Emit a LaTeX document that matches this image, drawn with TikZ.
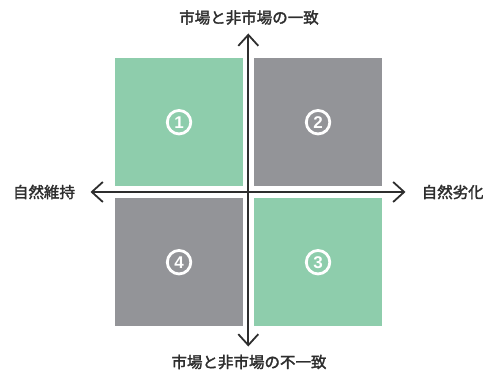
\documentclass[tikz,border=0pt]{standalone}
\usepackage{fontspec}
\newfontfamily\cjk{Noto Sans CJK JP}[FakeBold=2]
\newfontfamily\numfont{Liberation Sans Bold}
\usetikzlibrary{arrows.meta}
\definecolor{qgreen}{HTML}{8ECDAC}
\definecolor{qgray}{HTML}{939498}
\definecolor{txt}{HTML}{2E2E2E}
\tikzset{
  quad/.style={draw=none, minimum width=127.7pt, minimum height=127.4pt, inner sep=0pt, anchor=north west},
  axis/.style={line width=1.8pt, draw=txt, {Straight Barb[length=11pt,width=20pt,line width=1.8pt]}-{Straight Barb[length=11pt,width=20pt,line width=1.8pt]}},
  lbl/.style={text=txt, font=\cjk\fontsize{15.5}{15.5}\selectfont, inner sep=0pt},
  num/.style={circle, draw=white, line width=2.8pt, minimum size=23.5pt, inner sep=0pt, text=white, font=\numfont\fontsize{17}{17}\selectfont}
}
\begin{document}
\begin{tikzpicture}[x=1pt,y=-1pt]
\useasboundingbox (0,0) rectangle (483,374);
\node[quad, fill=qgreen] (q1) at (115,58.3) {};
\node[quad, fill=qgray] (q2) at (254,58.3) {};
\node[quad, fill=qgray] (q4) at (115,198.3) {};
\node[quad, fill=qgreen] (q3) at (254,198.3) {};
\node[num] (n1) at (q1.center) {1};
\node[num] (n2) at (q2.center) {2};
\node[num] (n3) at (q3.center) {3};
\node[num] (n4) at (q4.center) {4};
\coordinate (top) at (248.3,33.5);
\coordinate (bot) at (248.3,346.5);
\coordinate (lft) at (90.5,192);
\coordinate (rgt) at (405.5,192);
\draw[axis] (bot) -- (top);
\draw[axis] (lft) -- (rgt);
\node[lbl] (tl) at (249,17.5) {市場と非市場の一致};
\node[lbl] (bl) at (249,362) {市場と非市場の不一致};
\node[lbl] (ll) at (44,192) {自然維持};
\node[lbl, anchor=west] (rl) at (421.5,192) {自然劣化};
\end{tikzpicture}
\end{document}
